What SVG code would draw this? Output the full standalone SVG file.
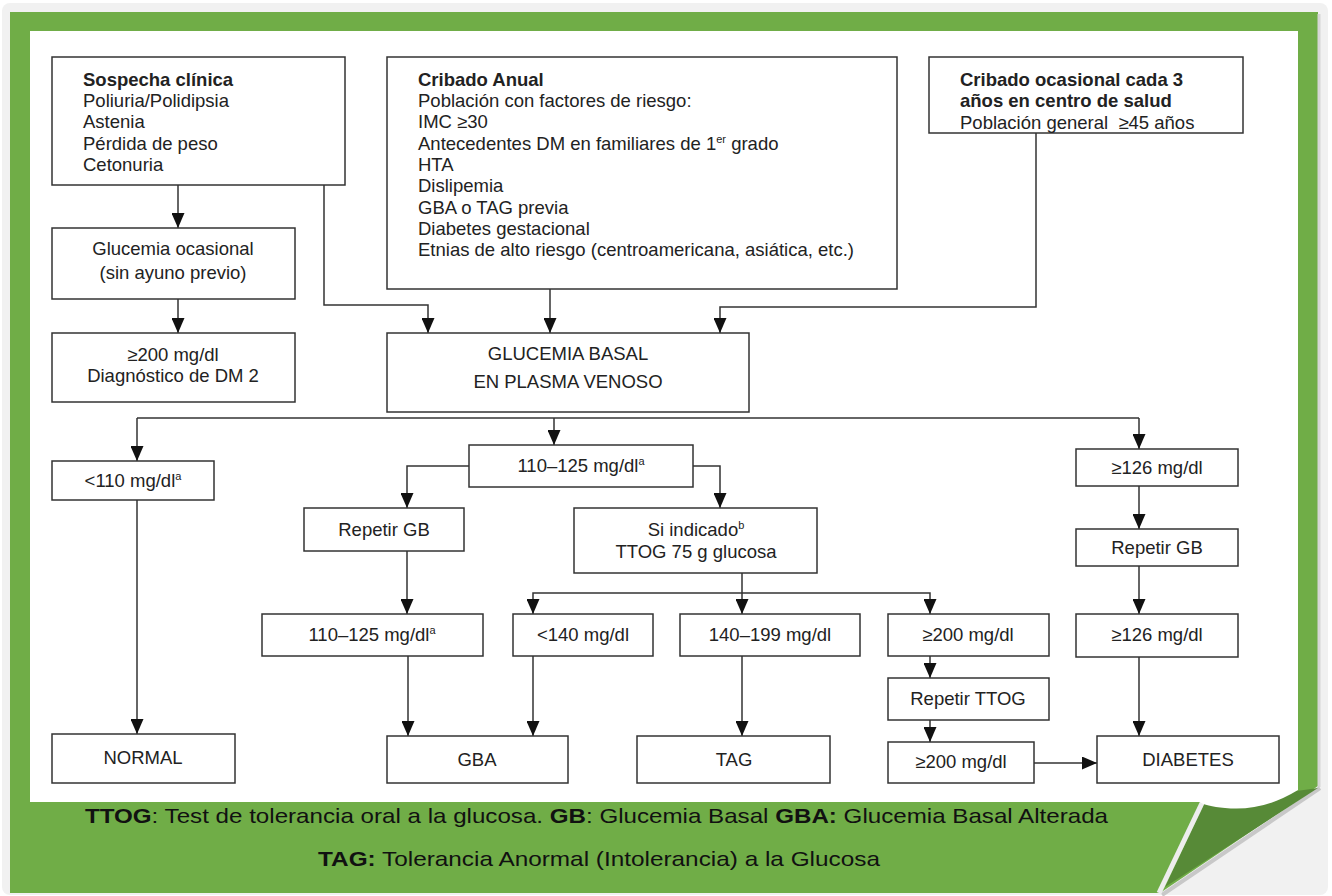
<svg xmlns="http://www.w3.org/2000/svg" width="1332" height="896" viewBox="0 0 1332 896">
<style>
.box{fill:#fff;stroke:#333;stroke-width:1.5}
.t{font-family:"Liberation Sans",Arial,sans-serif;font-size:18.5px;fill:#222}
.c{text-anchor:middle}
.b{font-weight:bold}
.ln{fill:none;stroke:#333;stroke-width:1.5}
.ar{marker-end:url(#arr)}
.sup{font-size:11px}
.ft{font-family:"Liberation Sans",Arial,sans-serif;font-size:21px;fill:#111}
</style>
<defs>
<marker id="arr" markerUnits="userSpaceOnUse" markerWidth="15" markerHeight="13" refX="15" refY="6.5" orient="auto">
<path d="M0,0 L15,6.5 L0,13 z" fill="#111"/>
</marker>
</defs>
<rect x="0" y="0" width="1332" height="896" fill="#fff"/>
<rect x="2" y="3" width="1326" height="892" rx="8" fill="#f1f1f1"/>
<g id="frame">
<polygon points="10,12 1318,12 1318,786 1160,893 10,893" fill="#70ad47"/>
<line x1="1319" y1="14" x2="1319" y2="787" stroke="#d6d6d6" stroke-width="3"/>
<line x1="1320" y1="788" x2="1162" y2="895" stroke="#c8c8c8" stroke-width="4"/>
<polygon points="1204,804 1318,788 1165,887" fill="#578a37"/>
<line x1="1203" y1="801" x2="1159" y2="893" stroke="#ededed" stroke-width="5"/>
<path d="M30,31 H1298 V790 Q1262,812 1225,808 Q1205,806 1200,802 H30 Z" fill="#fff"/>
</g>
<g id="connectors">
<path class="ln ar" d="M178,185 V228"/>
<path class="ln ar" d="M178,299 V333"/>
<path class="ln ar" d="M324,185 V305 H428 V333"/>
<path class="ln ar" d="M550,289 V333"/>
<path class="ln ar" d="M1036,133 V307 H720 V333"/>
<path class="ln" d="M137,418 H1139"/>
<path class="ln ar" d="M137,418 V461"/>
<path class="ln ar" d="M554,418 V445"/>
<path class="ln ar" d="M1139,418 V449"/>
<path class="ln ar" d="M137,500 V734"/>
<path class="ln ar" d="M469,466 H407 V508"/>
<path class="ln ar" d="M693,466 H720 V508"/>
<path class="ln ar" d="M407,551 V614"/>
<path class="ln ar" d="M742,573 V614"/>
<path class="ln ar" d="M742,593 H533 V614"/>
<path class="ln ar" d="M742,593 H930 V614"/>
<path class="ln ar" d="M408,656 V736"/>
<path class="ln ar" d="M533,656 V736"/>
<path class="ln ar" d="M742,656 V736"/>
<path class="ln ar" d="M930,656 V678"/>
<path class="ln ar" d="M930,720 V742"/>
<path class="ln ar" d="M1034,763 H1097"/>
<path class="ln ar" d="M1139,486 V529"/>
<path class="ln ar" d="M1139,566 V614"/>
<path class="ln ar" d="M1139,657 V736"/>
</g>
<g id="sospecha">
<rect class="box" x="52" y="57" width="293" height="128"/>
<text class="t b" x="83" y="86">Sospecha clínica</text>
<text class="t" x="83" y="107">Poliuria/Polidipsia</text>
<text class="t" x="83" y="128">Astenia</text>
<text class="t" x="83" y="150">Pérdida de peso</text>
<text class="t" x="83" y="171">Cetonuria</text>
</g>
<g id="cribado-anual">
<rect class="box" x="387" y="57" width="510" height="232"/>
<text class="t b" x="418" y="86">Cribado Anual</text>
<text class="t" x="418" y="107">Población con factores de riesgo:</text>
<text class="t" x="418" y="128">IMC ≥30</text>
<text class="t" x="418" y="150">Antecedentes DM en familiares de 1<tspan class="sup" dy="-7">er</tspan><tspan dy="7"> grado</tspan></text>
<text class="t" x="418" y="171">HTA</text>
<text class="t" x="418" y="192">Dislipemia</text>
<text class="t" x="418" y="214">GBA o TAG previa</text>
<text class="t" x="418" y="235">Diabetes gestacional</text>
<text class="t" x="418" y="256">Etnias de alto riesgo (centroamericana, asiática, etc.)</text>
</g>
<g id="cribado-ocasional">
<rect class="box" x="929" y="57" width="314" height="76"/>
<text class="t b" x="960" y="86">Cribado ocasional cada 3</text>
<text class="t b" x="960" y="107">años en centro de salud</text>
<text class="t" x="960" y="129">Población general&#160; ≥45 años</text>
</g>
<g id="glucemia-ocasional">
<rect class="box" x="52" y="228" width="243" height="71"/>
<text class="t c" x="173" y="255">Glucemia ocasional</text>
<text class="t c" x="173" y="279">(sin ayuno previo)</text>
</g>
<g id="dm2">
<rect class="box" x="52" y="333" width="243" height="69"/>
<text class="t c" x="173" y="361">≥200 mg/dl</text>
<text class="t c" x="173" y="382">Diagnóstico de DM 2</text>
</g>
<g id="glucemia-basal">
<rect class="box" x="387" y="333" width="362" height="79"/>
<text class="t c" x="568" y="360">GLUCEMIA BASAL</text>
<text class="t c" x="568" y="388">EN PLASMA VENOSO</text>
</g>
<g id="lt110">
<rect class="box" x="52" y="461" width="162" height="39"/>
<text class="t c" x="133" y="487">&lt;110 mg/dl<tspan class="sup" dy="-7">a</tspan></text>
</g>
<g id="mid110">
<rect class="box" x="469" y="445" width="224" height="42"/>
<text class="t c" x="581" y="472">110–125 mg/dl<tspan class="sup" dy="-7">a</tspan></text>
</g>
<g id="ge126a">
<rect class="box" x="1076" y="449" width="162" height="37"/>
<text class="t c" x="1157" y="474">≥126 mg/dl</text>
</g>
<g id="repetir-gb-left">
<rect class="box" x="304" y="508" width="160" height="43"/>
<text class="t c" x="384" y="536">Repetir GB</text>
</g>
<g id="si-indicado">
<rect class="box" x="574" y="508" width="243" height="65"/>
<text class="t c" x="696" y="536">Si indicado<tspan class="sup" dy="-7">b</tspan></text>
<text class="t c" x="696" y="558">TTOG 75 g glucosa</text>
</g>
<g id="repetir-gb-right">
<rect class="box" x="1076" y="529" width="162" height="37"/>
<text class="t c" x="1157" y="554">Repetir GB</text>
</g>
<g id="mid110b">
<rect class="box" x="262" y="614" width="221" height="42"/>
<text class="t c" x="372" y="641">110–125 mg/dl<tspan class="sup" dy="-7">a</tspan></text>
</g>
<g id="lt140">
<rect class="box" x="513" y="614" width="140" height="42"/>
<text class="t c" x="583" y="641">&lt;140 mg/dl</text>
</g>
<g id="r140-199">
<rect class="box" x="680" y="614" width="180" height="42"/>
<text class="t c" x="770" y="641">140–199 mg/dl</text>
</g>
<g id="ge200a">
<rect class="box" x="888" y="614" width="161" height="42"/>
<text class="t c" x="968" y="641">≥200 mg/dl</text>
</g>
<g id="ge126b">
<rect class="box" x="1076" y="614" width="162" height="43"/>
<text class="t c" x="1157" y="641">≥126 mg/dl</text>
</g>
<g id="repetir-ttog">
<rect class="box" x="888" y="678" width="161" height="42"/>
<text class="t c" x="968" y="705">Repetir TTOG</text>
</g>
<g id="ge200b">
<rect class="box" x="888" y="742" width="146" height="41"/>
<text class="t c" x="961" y="768">≥200 mg/dl</text>
</g>
<g id="normal">
<rect class="box" x="52" y="734" width="183" height="49"/>
<text class="t c" x="143" y="764">NORMAL</text>
</g>
<g id="gba">
<rect class="box" x="387" y="736" width="181" height="47"/>
<text class="t c" x="477" y="766">GBA</text>
</g>
<g id="tag">
<rect class="box" x="637" y="736" width="193" height="47"/>
<text class="t c" x="734" y="766">TAG</text>
</g>
<g id="diabetes">
<rect class="box" x="1097" y="736" width="182" height="47"/>
<text class="t c" x="1188" y="766">DIABETES</text>
</g>
<g id="footer">
<text class="ft" x="85" y="823" textLength="1023" lengthAdjust="spacingAndGlyphs"><tspan font-weight="bold">TTOG</tspan>: Test de tolerancia oral a la glucosa. <tspan font-weight="bold">GB</tspan>: Glucemia Basal <tspan font-weight="bold">GBA:</tspan> Glucemia Basal Alterada</text>
<text class="ft" x="318" y="866" textLength="562" lengthAdjust="spacingAndGlyphs"><tspan font-weight="bold">TAG:</tspan> Tolerancia Anormal (Intolerancia) a la Glucosa</text>
</g>
</svg>
